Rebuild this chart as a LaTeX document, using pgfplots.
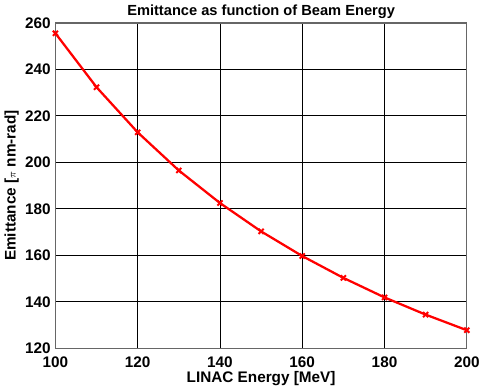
\documentclass[border=0pt]{standalone}
\usepackage{pgfplots}
\pgfplotsset{compat=1.18}
\usepackage{fontspec}
\setmainfont{Liberation Sans}
\begin{document}
\begin{tikzpicture}
\begin{axis}[
  scale only axis,
  width=309pt, height=244.5pt,
  xmin=100, xmax=200, ymin=120, ymax=260,
  xtick={100,120,...,200}, ytick={120,140,...,260},
  grid=major,
  major grid style={black, line width=0.6pt},
  axis line style={gray!80!black, line width=1pt},
  tick style={draw=none},
  /pgf/number format/assume math mode=true,
  ticklabel style={font=\bfseries\fontsize{11.5}{13}\selectfont},
  xticklabel style={yshift=-3pt},
  title={\bfseries Emittance as function of Beam Energy},
  title style={font=\fontsize{11}{13}\selectfont, yshift=-6pt},
  xlabel={\bfseries LINAC Energy [MeV]},
  ylabel={\bfseries Emittance [$\scriptstyle\pi$ nm-rad]},
  label style={font=\fontsize{11.5}{13}\selectfont},
  xlabel style={yshift=4pt},
  ylabel style={yshift=-2pt},
  clip=false,
]
\addplot[red, line width=1.7pt, mark=x, mark size=2.7pt, mark options={line width=1.5pt}] coordinates {
(100,255.5) (110,232.3) (120,212.9) (130,196.5) (140,182.5) (150,170.3) (160,159.7) (170,150.3) (180,141.9) (190,134.5) (200,127.8)
};
\end{axis}
\end{tikzpicture}
\end{document}
